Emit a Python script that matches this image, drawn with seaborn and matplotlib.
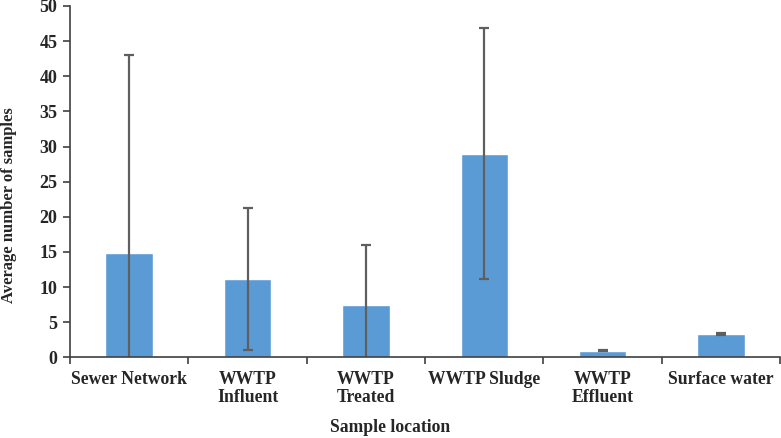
import matplotlib
matplotlib.use("Agg")
import matplotlib.pyplot as plt
import seaborn as sns
import pandas as pd
import numpy as np

categories = ["Sewer Network", "WWTP\nInfluent", "WWTP\nTreated", "WWTP Sludge", "WWTP\nEffluent", "Surface water"]
means = [14.85, 11.15, 7.5, 29.0, 0.95, 3.3]
errors = [28.15, 10.1, 8.55, 17.8, 0.1, 0.1]
y_ticks = [0, 5, 10, 15, 20, 25, 30, 35, 40, 45, 50]

sns.set_style("white")
plt.rcParams["font.family"] = ["Liberation Serif", "DejaVu Serif"]
plt.rcParams["font.weight"] = "bold"

df = pd.DataFrame({"location": categories, "mean": means, "err": errors})

fig = plt.figure(figsize=(7.81, 4.38), dpi=100)
ax = fig.add_axes([70 / 781, 1 - 357.3 / 438, 710 / 781, 351.3 / 438])

sns.barplot(data=df, x="location", y="mean", color="#5B9BD5", saturation=1,
            width=0.4, errorbar=None, ax=ax)
ax.errorbar(x=np.arange(len(categories)), y=df["mean"], yerr=df["err"], fmt="none",
            ecolor="#5f5f5f", elinewidth=1.6, capsize=3.5, capthick=1.6, clip_on=True)

ax.set_ylim(0, 50)
ax.set_xlim(-0.5, len(categories) - 0.5)
ax.set_yticks(y_ticks)
ax.set_yticklabels([str(t) for t in y_ticks], fontsize=13, fontweight="bold")
ax.set_xticks(np.arange(len(categories)))
ax.set_xticklabels(categories, fontsize=12.7, fontweight="bold", linespacing=1.05)
ax.set_xticks(np.arange(len(categories) + 1) - 0.5, minor=True)
ax.tick_params(axis="x", which="major", length=0, pad=10)
ax.tick_params(axis="x", which="minor", length=5, width=1.2, color="#404040", direction="out", bottom=True)
ax.tick_params(axis="y", which="major", length=5, width=1.2, color="#404040", direction="out", left=True, pad=4)

for s in ["top", "right"]:
    ax.spines[s].set_visible(False)
for s in ["left", "bottom"]:
    ax.spines[s].set_color("#404040")
    ax.spines[s].set_linewidth(1.2)

ax.set_xlabel("")
ax.set_ylabel("")
fig.text(390 / 781, 1 - 428 / 438, "Sample location", ha="center", va="center",
         fontsize=12.7, fontweight="bold")
fig.text(9 / 781, 1 - 205 / 438, "Average number of samples", ha="center", va="center",
         rotation=90, fontsize=12, fontweight="bold")

fig.savefig("out.png", dpi=100)
